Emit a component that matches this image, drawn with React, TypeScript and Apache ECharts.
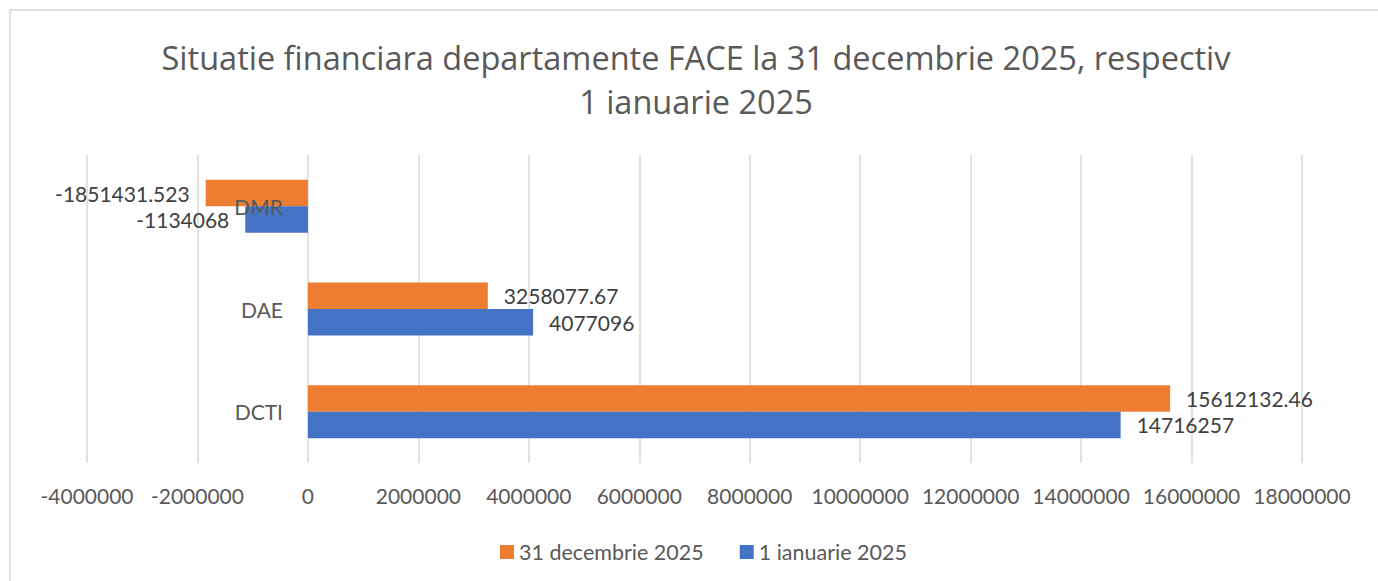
import React, { useEffect, useRef } from "react";
import * as echarts from "echarts";

const categories = ["DCTI", "DAE", "DMR"];
const dec31Values = [15612132.46, 3258077.67, -1851431.523];
const jan1Values = [14716257, 4077096, -1134068];
const seriesNames = ["31 decembrie 2025", "1 ianuarie 2025"];
const titleLines = [
  "Situatie financiara departamente FACE la 31 decembrie 2025, respectiv",
  "1 ianuarie 2025",
];
const xMin = -4000000;
const xMax = 18000000;
const xStep = 2000000;

const FONT = "Lato, 'Open Sans', sans-serif";
const TITLE_FONT = "'Open Sans', Lato, sans-serif";
const AXIS_COLOR = "#595959";
const LABEL_COLOR = "#404040";

function makeData(values: number[]) {
  return values.map((v) => ({
    value: v,
    label: { position: v < 0 ? "left" : "right" },
  }));
}

export default function App() {
  const ref = useRef<HTMLDivElement>(null);
  useEffect(() => {
    if (!ref.current) return;
    const chart = echarts.init(ref.current, undefined, { renderer: "svg" });
    const labelCfg = {
      show: true,
      distance: 16,
      fontFamily: FONT,
      fontSize: 21,
      color: LABEL_COLOR,
      formatter: (p: any) => String(p.value),
    };
    chart.setOption({
      animation: false,
      backgroundColor: "#ffffff",
      textStyle: { fontFamily: FONT },
      graphic: [
        {
          type: "rect",
          shape: { x: 10, y: 10, width: 1500, height: 700 },
          style: { fill: "none", stroke: "#d9d9d9", lineWidth: 1.5 },
          silent: true,
        },
        {
          type: "text",
          x: 696,
          y: 57,
          style: {
            text: titleLines[0],
            fontFamily: TITLE_FONT,
            fontSize: 32.5,
            fill: AXIS_COLOR,
            textAlign: "center",
            textVerticalAlign: "middle",
          },
        },
        {
          type: "text",
          x: 696,
          y: 101,
          style: {
            text: titleLines[1],
            fontFamily: TITLE_FONT,
            fontSize: 32.5,
            fill: AXIS_COLOR,
            textAlign: "center",
            textVerticalAlign: "middle",
          },
        },
      ],
      legend: {
        data: seriesNames,
        left: 495,
        top: 536,
        icon: "rect",
        itemWidth: 14,
        itemHeight: 14,
        itemGap: 36,
        textStyle: {
          fontFamily: FONT,
          fontSize: 21.5,
          color: AXIS_COLOR,
          lineHeight: 22,
        },
      },
      grid: { left: 87, right: 76, top: 155, bottom: 118, containLabel: false },
      xAxis: {
        type: "value",
        min: xMin,
        max: xMax,
        interval: xStep,
        axisLine: { show: false },
        axisTick: { show: false },
        splitLine: { show: true, lineStyle: { color: "#d9d9d9", width: 1.5 } },
        axisLabel: {
          fontFamily: FONT,
          fontSize: 21,
          color: AXIS_COLOR,
          margin: 22,
          formatter: (v: number) => String(v),
        },
      },
      yAxis: {
        type: "category",
        data: categories,
        offset: -220,
        z: 10,
        axisLine: { show: false },
        axisTick: { show: false },
        axisLabel: {
          fontFamily: FONT,
          fontSize: 21,
          color: AXIS_COLOR,
          margin: 24,
        },
      },
      series: [
        {
          name: seriesNames[0],
          type: "bar",
          data: makeData(dec31Values),
          barWidth: 26.5,
          barGap: "0%",
          itemStyle: { color: "#ED7D31" },
          label: labelCfg,
        },
        {
          name: seriesNames[1],
          type: "bar",
          data: makeData(jan1Values),
          barWidth: 26.5,
          barGap: "0%",
          itemStyle: { color: "#4472C4" },
          label: labelCfg,
        },
      ],
    });
    return () => chart.dispose();
  }, []);
  return (
    <div
      ref={ref}
      style={{ position: "absolute", left: 0, top: 0, width: 1378, height: 581 }}
    />
  );
}
